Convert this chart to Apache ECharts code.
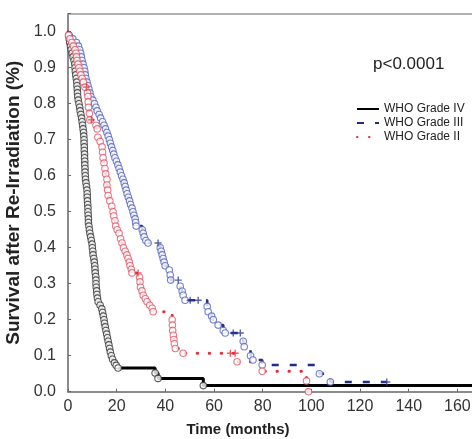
<!DOCTYPE html>
<html><head><meta charset="utf-8">
<script src="https://cdn.jsdelivr.net/npm/echarts@6/dist/echarts.min.js"></script>
<style>html,body{margin:0;padding:0;background:#fff}#c{width:472px;height:439px}</style>
</head><body><div id="c"></div>
<script>
// ---- data ----
const groupNames = ['WHO Grade IV', 'WHO Grade III', 'WHO Grade II'];
const xTickValues = [0, 20, 40, 60, 80, 100, 120, 140, 160];
const yTickValues = [0.0, 0.1, 0.2, 0.3, 0.4, 0.5, 0.6, 0.7, 0.8, 0.9, 1.0];
const pValueText = 'p<0.0001';

// Grade IV: event times (months) and survival after each event
const gradeIVEvents = [[0.3,0.99],[0.5,0.98],[0.7,0.97],[1.0,0.96],[1.3,0.95],[1.7,0.94],[2.1,0.93],[2.5,0.92],[2.8,0.91],[2.9,0.90],[3.0,0.89],[3.2,0.88],[3.4,0.87],[3.6,0.86],[3.7,0.85],[3.8,0.84],[3.9,0.83],[4.0,0.82],[4.2,0.81],[4.5,0.80],[4.8,0.79],[5.0,0.78],[5.3,0.77],[5.6,0.76],[5.8,0.75],[6.0,0.74],[6.2,0.73],[6.4,0.72],[6.5,0.71],[6.6,0.70],[6.6,0.69],[6.7,0.68],[6.7,0.67],[6.8,0.66],[6.8,0.65],[6.9,0.64],[6.9,0.63],[7.0,0.62],[7.0,0.61],[7.1,0.60],[7.2,0.59],[7.4,0.58],[7.6,0.57],[7.8,0.56],[7.9,0.55],[7.9,0.54],[8.0,0.53],[8.1,0.52],[8.2,0.51],[8.2,0.50],[8.3,0.49],[8.4,0.48],[8.4,0.47],[8.6,0.46],[8.8,0.45],[9.0,0.44],[9.3,0.43],[9.6,0.42],[9.9,0.41],[10.0,0.40],[10.2,0.39],[10.3,0.38],[10.6,0.37],[10.8,0.36],[11.0,0.35],[11.1,0.34],[11.2,0.33],[11.4,0.32],[11.5,0.31],[11.5,0.30],[11.6,0.29],[11.8,0.28],[11.9,0.27],[12.1,0.26],[12.4,0.25],[13.2,0.24],[13.9,0.23],[14.2,0.22],[14.5,0.21],[14.8,0.20],[15.0,0.19],[15.3,0.18],[15.6,0.17],[15.9,0.16],[16.2,0.15],[16.5,0.14],[16.8,0.13],[17.1,0.12],[17.4,0.11],[17.8,0.10],[18.3,0.09],[19.1,0.08],[19.8,0.073],[20.6,0.066],[35.8,0.052],[37.0,0.037],[55.6,0.017]];
const gradeIVCensored = [];
const gradeIVLastFollowUp = 166;

// Grade III
const gradeIIIEvents = [[0.5,0.99],[2.0,0.98],[3.5,0.97],[4.3,0.96],[4.8,0.95],[5.2,0.94],[5.5,0.93],[5.8,0.92],[6.2,0.91],[6.6,0.90],[6.9,0.89],[7.1,0.88],[7.4,0.87],[7.8,0.86],[8.2,0.85],[8.6,0.84],[9.0,0.83],[9.4,0.82],[10.2,0.81],[10.9,0.80],[11.5,0.79],[12.0,0.78],[12.8,0.77],[13.4,0.76],[14.2,0.75],[14.8,0.74],[15.4,0.73],[16.0,0.72],[16.5,0.71],[17.0,0.70],[17.4,0.69],[17.9,0.68],[18.4,0.67],[18.8,0.66],[19.3,0.65],[19.9,0.64],[20.5,0.63],[21.0,0.62],[21.5,0.61],[22.0,0.60],[22.6,0.59],[23.1,0.58],[23.5,0.57],[23.9,0.56],[24.3,0.55],[24.8,0.54],[25.3,0.53],[25.7,0.52],[26.3,0.51],[26.7,0.50],[27.1,0.49],[27.6,0.48],[27.8,0.47],[28.0,0.46],[30.5,0.45],[30.9,0.44],[31.3,0.43],[32.0,0.42],[32.9,0.413],[37.9,0.40],[38.3,0.39],[38.7,0.38],[39.1,0.37],[39.5,0.36],[39.9,0.35],[41.6,0.338],[42.0,0.324],[42.2,0.31],[46.1,0.293],[46.9,0.279],[47.3,0.268],[48.1,0.254],[57.2,0.237],[57.6,0.222],[59.0,0.21],[59.7,0.20],[61.7,0.185],[63.8,0.17],[64.6,0.163],[72.0,0.14],[72.4,0.125],[75.0,0.10],[76.0,0.088],[79.8,0.074],[103.3,0.05],[107.8,0.027]];
const gradeIIICensored = [[37.0,0.413],[45.3,0.31],[50.2,0.254],[53.5,0.254],[67.9,0.163],[70.8,0.163],[131.0,0.027]];

// Grade II
const gradeIIEvents = [[0.2,0.99],[0.8,0.98],[1.6,0.97],[2.2,0.96],[2.9,0.95],[3.3,0.94],[3.5,0.93],[3.7,0.92],[4.1,0.91],[4.5,0.90],[4.9,0.89],[5.3,0.88],[5.8,0.87],[6.3,0.86],[7.0,0.846],[8.0,0.83],[8.2,0.82],[8.3,0.805],[8.4,0.79],[8.8,0.773],[9.0,0.755],[11.5,0.74],[12.0,0.73],[12.3,0.707],[13.2,0.695],[14.0,0.68],[14.2,0.665],[14.4,0.65],[14.8,0.635],[15.2,0.62],[15.5,0.605],[16.0,0.59],[16.0,0.574],[16.3,0.56],[16.5,0.545],[17.2,0.53],[18.0,0.515],[18.5,0.50],[18.8,0.488],[19.3,0.475],[19.6,0.46],[20.2,0.45],[21.0,0.44],[21.6,0.425],[22.2,0.413],[22.8,0.40],[23.5,0.39],[24.2,0.38],[24.7,0.37],[25.2,0.36],[25.5,0.35],[26.0,0.34],[26.3,0.33],[29.4,0.318],[29.6,0.305],[29.8,0.29],[30.4,0.28],[30.9,0.268],[31.8,0.258],[32.5,0.25],[33.6,0.24],[34.6,0.232],[35.0,0.222],[42.8,0.20],[42.9,0.185],[43.0,0.17],[43.3,0.157],[43.5,0.145],[43.7,0.133],[44.1,0.12],[47.3,0.107],[69.5,0.083],[79.8,0.057],[98.0,0.03],[98.8,0.0]];
const gradeIICensored = [[7.6,0.846],[9.6,0.755],[28.8,0.33],[66.7,0.107],[68.7,0.107]];

// ---- build step curves from the data ----
function kmCurve(events, censored, lastFollowUp) {
  const pts = [[0, 1]].concat(events, censored);
  pts.sort((a, b) => a[0] - b[0] || b[1] - a[1]);
  if (lastFollowUp !== undefined) pts.push([lastFollowUp, pts[pts.length - 1][1]]);
  return pts;
}
const curveIV = kmCurve(gradeIVEvents, gradeIVCensored, gradeIVLastFollowUp);
const curveIII = kmCurve(gradeIIIEvents, gradeIIICensored);
const curveII = kmCurve(gradeIIEvents, gradeIICensored);

const plusSymbol = 'path://M4,0H6V4H10V6H6V10H4V6H0V4H4Z';
const font = 'Liberation Sans, Arial, sans-serif';

const isTick = (v, list) => list.some(t => Math.abs(t - v) < 1e-6);

const chart = echarts.init(document.getElementById('c'), null, {renderer: 'canvas'});
chart.setOption({
  animation: false,
  backgroundColor: '#fff',
  title: {
    text: pValueText, left: 368, top: 51,
    textStyle: {fontFamily: font, fontSize: 17, fontWeight: 'normal', color: '#222'}
  },
  legend: {
    data: groupNames, orient: 'vertical', left: 351, top: 98,
    itemWidth: 22, itemHeight: 10, itemGap: 2,
    itemStyle: {opacity: 0},
    textStyle: {fontFamily: font, fontSize: 12, color: '#222'},
    selectedMode: false
  },
  grid: {left: 68, right: 0, top: 13.7, bottom: 47.3, containLabel: false, outerBoundsMode: 'none'},
  xAxis: [{
    type: 'value', min: 0, max: 166, interval: 20,
    name: 'Time (months)', nameLocation: 'middle', nameGap: 31,
    nameTextStyle: {fontFamily: font, fontSize: 15, fontWeight: 'bold', color: '#222', padding: [0, 64, 0, 0]},
    axisLine: {show: true, lineStyle: {color: '#666', width: 1.5}},
    axisTick: {show: true, inside: true, length: 3, lineStyle: {color: '#666'}},
    axisLabel: {margin: 7, fontFamily: font, fontSize: 16, color: '#333',
      formatter: v => isTick(v, xTickValues) ? String(v) : ''},
    splitLine: {show: false}
  }, {
    type: 'value', position: 'top', min: 0, max: 166,
    axisLine: {show: true, lineStyle: {color: '#999', width: 1.5}},
    axisTick: {show: false}, axisLabel: {show: false}, splitLine: {show: false}
  }],
  yAxis: {
    type: 'value', min: 0, max: 1.05, interval: 0.1,
    name: 'Survival after Re-Irradiation (%)', nameLocation: 'middle', nameGap: 37,
    nameTextStyle: {fontFamily: font, fontSize: 19, fontWeight: 'bold', color: '#222'},
    axisLine: {show: true, lineStyle: {color: '#666', width: 1.5}},
    axisTick: {show: true, inside: true, length: 3, lineStyle: {color: '#666'}},
    axisLabel: {margin: 12, fontFamily: font, fontSize: 16, color: '#333',
      formatter: v => isTick(v, yTickValues) ? v.toFixed(1) : ''},
    splitLine: {show: false}
  },
  series: [
    {name: groupNames[0], type: 'line', step: 'end', data: curveIV, symbol: 'none', z: 3,
      lineStyle: {color: '#000', width: 3}, itemStyle: {color: '#000'}},
    {name: groupNames[1], type: 'line', step: 'end', data: curveIII, symbol: 'none', z: 2,
      lineStyle: {color: '#1f2d86', width: 2.6, type: [7, 11]}, itemStyle: {color: '#1f2d86'}},
    {name: groupNames[2], type: 'line', step: 'end', data: curveII, symbol: 'none', z: 2,
      lineStyle: {color: '#e5303c', width: 3, type: [0.5, 11.5], cap: 'round'}, itemStyle: {color: '#e5303c'}},
    {type: 'scatter', data: gradeIVEvents, symbol: 'circle', symbolSize: 6.5, z: 4,
      itemStyle: {color: '#fff', borderColor: '#333', borderWidth: 1.1}},
    {type: 'scatter', data: gradeIIIEvents, symbol: 'circle', symbolSize: 6.5, z: 4,
      itemStyle: {color: '#fff', borderColor: '#5060c0', borderWidth: 1.1}},
    {type: 'scatter', data: gradeIIEvents, symbol: 'circle', symbolSize: 6.5, z: 4,
      itemStyle: {color: '#fff', borderColor: '#e05464', borderWidth: 1.1}},
    {type: 'scatter', data: gradeIIICensored, symbol: plusSymbol, symbolSize: 7, z: 5,
      itemStyle: {color: '#2a3a98'}},
    {type: 'scatter', data: gradeIICensored, symbol: plusSymbol, symbolSize: 7, z: 5,
      itemStyle: {color: '#e5303c'}}
  ]
});
</script>
</body></html>
